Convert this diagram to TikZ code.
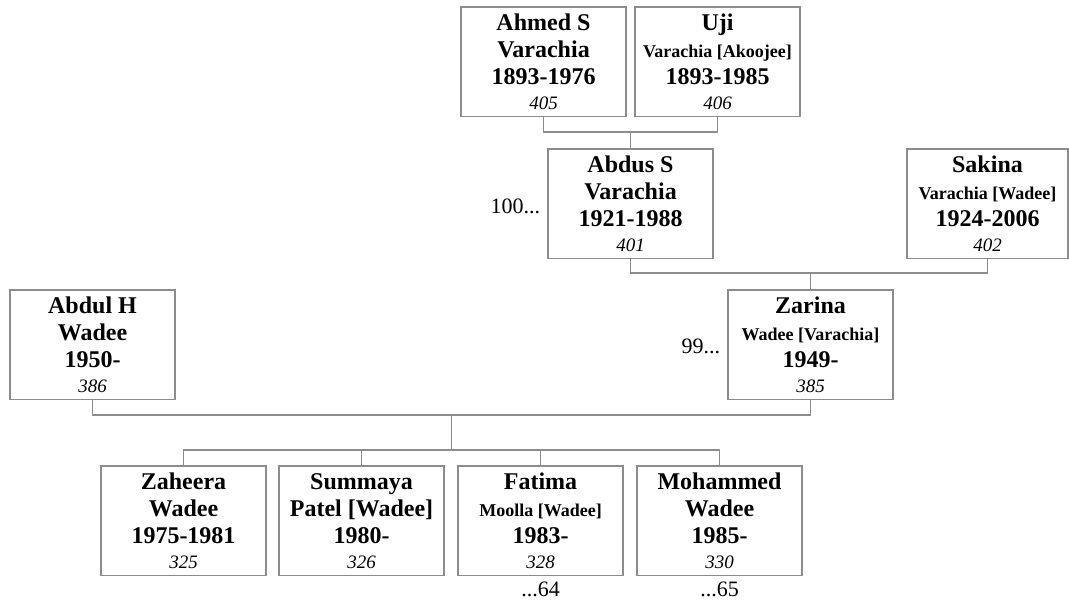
\documentclass[tikz,border=0pt]{standalone}
\usepackage{fontspec}
\setmainfont{Liberation Serif}
\newcommand\bigb{\fontsize{24}{26}\selectfont\bfseries}
\newcommand\smb{\fontsize{18}{20}\selectfont\bfseries}
\newcommand\idf{\fontsize{19}{21}\selectfont\itshape}
\newcommand\labf{\fontsize{22}{24}\selectfont}
\definecolor{linegray}{RGB}{140,140,140}
\tikzset{
  pbox/.style={draw=linegray, line width=1.3pt, minimum height=109.5pt, inner sep=0pt, fill=white},
  ln/.style={anchor=base, inner sep=0pt, font=\bigb},
  conn/.style={draw=linegray, line width=1.3pt},
  side/.style={inner sep=0pt, font=\labf}
}
\newcommand\pers[8]{%
  \node[pbox, minimum width=#4pt] (#1) at (#2+#4/2, #3+54.75) {};
  \node[ln] (#1-1) at ([yshift=-24.5pt]#1.north) {#5};
  \node[ln] (#1-2) at ([yshift=-51pt]#1.north) {#6};
  \node[ln] (#1-3) at ([yshift=-78pt]#1.north) {#7};
  \node[ln, font=\idf] (#1-4) at ([yshift=-103pt]#1.north) {#8};
}
\begin{document}
\begin{tikzpicture}[x=1pt, y=-1pt]
\useasboundingbox (0,0) rectangle (1069,602);
% coordinates for connector joints
\coordinate (m1) at (630.5,132);
\coordinate (m2) at (810.5,273);
\coordinate (m3) at (451.5,415);
\coordinate (m4) at (451.5,450);
% persons
\pers{ahmed}{461}{7}{165}{Ahmed S}{Varachia}{1893-1976}{405}
\pers{uji}{635}{7}{165}{Uji}{\smb Varachia [Akoojee]}{1893-1985}{406}
\pers{abdus}{548}{149}{165}{Abdus S}{Varachia}{1921-1988}{401}
\pers{sakina}{907}{149}{161}{Sakina}{\smb Varachia [Wadee]}{1924-2006}{402}
\pers{abdul}{10}{290}{165}{Abdul H}{Wadee}{1950-}{386}
\pers{zarina}{728}{290}{165}{Zarina}{\smb Wadee [Varachia]}{1949-}{385}
\pers{zaheera}{101}{466}{165}{Zaheera}{Wadee}{1975-1981}{325}
\pers{summaya}{279}{466}{165}{Summaya}{Patel [Wadee]}{1980-}{326}
\pers{fatima}{458}{466}{165}{Fatima}{\smb Moolla [Wadee]}{1983-}{328}
\pers{mohammed}{637}{466}{165}{Mohammed}{Wadee}{1985-}{330}
% connectors by names
\draw[conn] (ahmed.south) |- (m1);
\draw[conn] (uji.south) |- (m1);
\draw[conn] (m1) -- (abdus.north);
\draw[conn] (abdus.south) |- (m2);
\draw[conn] (sakina.south) |- (m2);
\draw[conn] (m2) -- (zarina.north);
\draw[conn] (abdul.south) |- (m3);
\draw[conn] (zarina.south) |- (m3);
\draw[conn] (m3) -- (m4);
\draw[conn] (zaheera.north) |- (m4);
\draw[conn] (summaya.north) |- (m4);
\draw[conn] (fatima.north) |- (m4);
\draw[conn] (mohammed.north) |- (m4);
% side labels
\node[side, anchor=base east] (l100) at ([xshift=-7pt, yshift=-10pt]abdus.west) {100...};
\node[side, anchor=base east] (l99) at ([xshift=-7pt, yshift=-9pt]zarina.west) {99...};
\node[side, anchor=base] (l64) at ([yshift=-20pt]fatima.south) {...64};
\node[side, anchor=base] (l65) at ([yshift=-20pt]mohammed.south) {...65};
\end{tikzpicture}
\end{document}
